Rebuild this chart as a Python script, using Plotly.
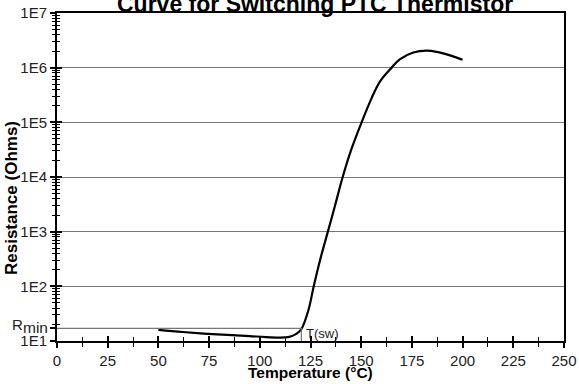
import plotly.graph_objects as go
import numpy as np

# ---- data ----
temperature_c = [50, 62, 79, 95, 103, 114, 118, 120.5, 124, 126.6, 129.7, 133.5,
                 137.1, 140.7, 145, 150.2, 155.2, 159.3, 165, 169, 175.7, 182.3,
                 187.2, 193.8, 200]
resistance_ohm = [16, 14.6, 13.2, 12.3, 11.8, 11.8, 13.5, 16.5, 37, 100, 300, 980,
                  3000, 9500, 31000, 100000, 280000, 560000, 1000000, 1420000,
                  1900000, 2050000, 1950000, 1680000, 1400000]

r_min = 17          # R_min level (ohms)
t_sw = 120.5        # switching temperature (deg C)

decade_vals = [10, 100, 1000, 10000, 100000, 1000000, 10000000]
decade_labels = ["1E1", "1E2", "1E3", "1E4", "1E5", "1E6", "1E7"]
x_tick_vals = [0, 25, 50, 75, 100, 125, 150, 175, 200, 225, 250]
x_tick_labels = [str(v) for v in x_tick_vals]

minor_y = [m * 10 ** k for k in range(1, 7) for m in range(2, 10)]

rmin_line_x = [0, t_sw, t_sw]
rmin_line_y = [r_min, r_min, 10]

FONT = "Liberation Sans, Arial, sans-serif"
GRID = "#777777"

fig = go.Figure()

fig.add_trace(go.Scatter(
    x=rmin_line_x, y=rmin_line_y, mode="lines",
    line=dict(color=GRID, width=1.2), xaxis="x2", yaxis="y2",
    hoverinfo="skip", showlegend=False))

fig.add_trace(go.Scatter(
    x=temperature_c, y=resistance_ohm, mode="lines",
    line=dict(color="black", width=2.2, shape="spline", smoothing=1.0),
    showlegend=False))

y_ticks = decade_vals + [r_min]
y_text = decade_labels + [""]

axis_common_x = dict(range=[0, 250], zeroline=False, showgrid=False, automargin=False)
axis_common_y = dict(type="log", range=[1, 7], zeroline=False, automargin=False)

fig.update_layout(
    width=579, height=384,
    margin=dict(l=57, r=15, t=13, b=43, autoexpand=False),
    paper_bgcolor="white", plot_bgcolor="white",
    font=dict(family=FONT, color="#222", size=15),
    xaxis=dict(**axis_common_x, tickmode="array", tickvals=x_tick_vals,
               ticktext=x_tick_labels, ticks="outside", ticklen=5, tickwidth=1.5,
               tickcolor="black", showline=True, linecolor="black", linewidth=2,
               mirror=True,
               minor=dict(ticks="outside", ticklen=4, tickwidth=1.2,
                          tickcolor="black", dtick=12.5, tick0=0),
               tickfont=dict(size=15, color="#222")),
    xaxis2=dict(**axis_common_x, overlaying="x", anchor="y2", side="bottom",
                tickmode="array", tickvals=x_tick_vals, showticklabels=False,
                ticks="inside", ticklen=5, tickwidth=1.5, tickcolor="black",
                minor=dict(ticks="inside", ticklen=4, tickwidth=1.2,
                           tickcolor="black", dtick=12.5, tick0=0)),
    yaxis=dict(**axis_common_y, tickmode="array", tickvals=y_ticks,
               ticktext=y_text, showgrid=False, ticks="outside", ticklen=5,
               tickwidth=1.5, tickcolor="black", showline=True,
               linecolor="black", linewidth=2, mirror=True,
               minor=dict(tickmode="array", tickvals=minor_y, ticks="outside",
                          ticklen=3, tickwidth=1, tickcolor="black"),
               tickfont=dict(size=15, color="#222")),
    yaxis2=dict(**axis_common_y, overlaying="y", anchor="x2", side="left",
                tickmode="array", tickvals=decade_vals, showticklabels=False,
                showgrid=True, gridcolor=GRID, gridwidth=1.2,
                ticks="inside", ticklen=5, tickwidth=1.5, tickcolor="black",
                minor=dict(tickmode="array", tickvals=minor_y, ticks="inside",
                           ticklen=3, tickwidth=1, tickcolor="black")),
    annotations=[
        dict(text="<b>Curve for Switching PTC Thermistor</b>", xref="paper",
             yref="paper", x=0.508, y=1, xanchor="center", yanchor="bottom",
             yshift=-6, showarrow=False, font=dict(size=23, color="black")),
        dict(text="<b>Resistance (Ohms)</b>", xref="paper", yref="paper",
             x=0, y=0.436, xanchor="center", yanchor="middle", xshift=-45,
             textangle=-90, showarrow=False, font=dict(size=17, color="black")),
        dict(text="<b>Temperature (°C)</b>", xref="paper", yref="paper",
             x=0.5, y=0, xanchor="center", yanchor="top", yshift=-21,
             showarrow=False, font=dict(size=15.5, color="black")),
        dict(text="R", xref="paper", yref="y", x=0, y=np.log10(r_min),
             xanchor="right", yanchor="middle", xshift=-32, yshift=4,
             showarrow=False, font=dict(size=15, color="#222")),
        dict(text="min", xref="paper", yref="y", x=0, y=np.log10(r_min),
             xanchor="right", yanchor="middle", xshift=-7, yshift=1,
             showarrow=False, font=dict(size=15.5, color="#222")),
        dict(text="T(sw)", xref="x", yref="y", x=t_sw + 1.5, y=np.log10(13.5),
             xanchor="left", yanchor="middle", showarrow=False,
             font=dict(size=13, color="#222")),
    ],
)

fig.write_html("out.html", config={"displayModeBar": False},
               post_script="document.body.style.margin='0';document.body.style.overflow='hidden';")
